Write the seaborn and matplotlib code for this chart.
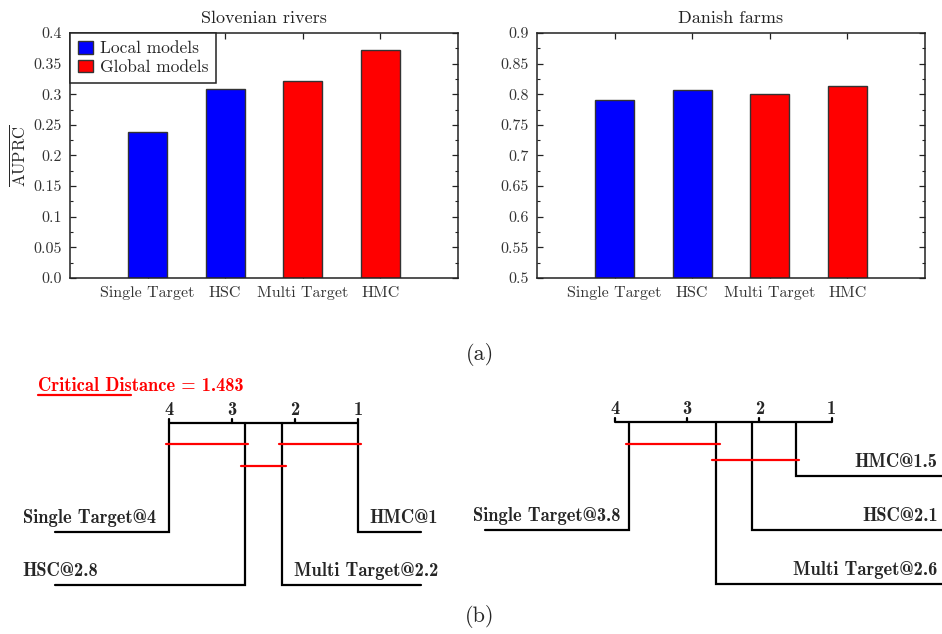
import numpy as np
import pandas as pd
import matplotlib
matplotlib.use('Agg')
import matplotlib.pyplot as plt
import seaborn as sns
from matplotlib.ticker import MultipleLocator, FuncFormatter

# ---- data ----
methods = ['Single Target', 'HSC', 'Multi Target', 'HMC']
groups = ['Local models', 'Local models', 'Global models', 'Global models']
rivers_auprc = [0.238, 0.308, 0.321, 0.373]
farms_auprc = [0.790, 0.807, 0.800, 0.814]

rivers_ranks = [4.0, 2.8, 2.2, 1.0]
farms_ranks = [3.8, 2.1, 2.6, 1.5]
rivers_cliques = [(4.0, 2.8), (2.2, 1.0), (2.8, 2.2)]
farms_cliques = [(3.8, 2.6), (2.6, 1.5)]
critical_distance = 1.483

# which side of the CD diagram each method's label goes to
rivers_sides = ['left', 'left', 'right', 'right']
farms_sides = ['left', 'right', 'right', 'right']

palette = {'Local models': '#0000ff', 'Global models': '#ff0000'}

sns.set_style('ticks')
plt.rcParams['font.family'] = ['cmr10', 'DejaVu Serif']
plt.rcParams['mathtext.fontset'] = 'cm'
plt.rcParams['axes.formatter.use_mathtext'] = True
plt.rcParams['axes.unicode_minus'] = False

W, H = 942, 634
fig = plt.figure(figsize=(W / 100, H / 100), dpi=100)


def px_axes(x0, y0, x1, y1):
    return fig.add_axes([x0 / W, 1 - y1 / H, (x1 - x0) / W, (y1 - y0) / H])


def fmt_tick(v, pos):
    if abs(v) < 1e-9:
        return '0.0'
    return '%g' % round(v, 3)


def bar_panel(ax, values, title, ylim, show_legend):
    df = pd.DataFrame({'method': methods, 'group': groups, 'value': values})
    sns.barplot(data=df, x='method', y='value', hue='group', palette=palette,
                dodge=False, width=0.5, saturation=1, edgecolor='#333333',
                linewidth=1, ax=ax, legend=show_legend)
    ax.set_xlim(-1, 4)
    ax.set_ylim(*ylim)
    ax.set_xlabel('')
    ax.set_ylabel('')
    ax.set_title(title, fontsize=13, pad=7, color='#222222')
    ax.yaxis.set_major_locator(MultipleLocator(0.05))
    ax.yaxis.set_minor_locator(MultipleLocator(0.025))
    ax.yaxis.set_major_formatter(FuncFormatter(fmt_tick))
    ax.tick_params(which='both', direction='in', top=True, right=True,
                   colors='#222222', labelcolor='#333333')
    ax.tick_params(which='major', length=4, width=0.9, labelsize=11.5, pad=6)
    ax.tick_params(which='minor', length=2, width=0.8)
    ax.tick_params(axis='x', which='minor', top=False, bottom=False)
    for s in ax.spines.values():
        s.set_visible(True)
        s.set_color('#222222')
        s.set_linewidth(1.1)
    if show_legend:
        leg = ax.legend(loc='upper left', fontsize=12.5, fancybox=False,
                        borderaxespad=0, borderpad=0.45, handlelength=0.85,
                        handleheight=0.75, handletextpad=0.4, labelspacing=0.2,
                        framealpha=1, edgecolor='#222222')
        leg.get_frame().set_linewidth(1.1)


ax1 = px_axes(70, 33, 458, 278)
ax2 = px_axes(537, 33, 925, 278)
bar_panel(ax1, rivers_auprc, 'Slovenian rivers', (0, 0.4), True)
bar_panel(ax2, farms_auprc, 'Danish farms', (0.5, 0.9), False)
ax1.set_ylabel(r'$\overline{\mathrm{AUPRC}}$', fontsize=12, labelpad=4)

# ---- critical difference diagrams ----
bold = {'family': 'cmb10', 'fontsize': 13.3}


def cd_panel(ax, ranks, sides, cliques, axis_y, rows, clique_ys, left_end,
             right_end, left_text, right_text):
    ax.set_ylim(634, 370)
    ax.axis('off')
    lw = 1.6
    ax.plot([4, 1], [axis_y, axis_y], color='black', lw=lw, solid_capstyle='butt')
    for r in [4, 3, 2, 1]:
        ax.plot([r, r], [axis_y, axis_y - 4], color='black', lw=lw)
        ax.text(r, axis_y - 4, str(r), ha='center', va='bottom', **bold)
    for m, r, side, row in zip(methods, ranks, sides, rows):
        end = left_end if side == 'left' else right_end
        ax.plot([r, r, end], [axis_y, row, row], color='black', lw=lw,
                solid_joinstyle='miter')
        label = '%s@%g' % (m, r)
        if side == 'left':
            ax.text(left_text, row - 14, label, ha='left', va='center', **bold)
        else:
            ax.text(right_text, row - 14, label, ha='right', va='center', **bold)
    for (a, b), cy in zip(cliques, clique_ys):
        ax.plot([a + 0.05, b - 0.05], [cy, cy], color='#ff0000', lw=lw)


ax3 = px_axes(0, 370, 470, 634)
ax3.set_xlim(4 + 169 / 63, 4 + 169 / 63 - 470 / 63)
cd_panel(ax3, rivers_ranks, rivers_sides, rivers_cliques, 422.7,
         [531.7, 585, 585, 531.7], [444.3, 444.3, 466], 5.81, 0.0, 6.32, -0.27)
cd_start = 6.08
ax3.plot([cd_start, cd_start - critical_distance], [395, 395], color='#ff0000', lw=1.6)
ax3.text(cd_start, 386, 'Critical Distance = %.3f' % critical_distance,
         ha='left', va='center', color='#ff0000', **bold)

ax4 = px_axes(470, 370, 942, 634)
ax4.set_xlim(4 + 145 / 72.2, 4 + 145 / 72.2 - 472 / 72.2)
cd_panel(ax4, farms_ranks, farms_sides, farms_cliques, 421.7,
         [530, 530, 584.3, 476], [443.7, 460], 5.80, -0.53, 5.97, -0.47)

fig.text(480 / W, 1 - 355 / H, '(a)', ha='center', va='center', fontsize=16)
fig.text(480 / W, 1 - 617 / H, '(b)', ha='center', va='center', fontsize=16)

fig.savefig('out.png', dpi=100)
